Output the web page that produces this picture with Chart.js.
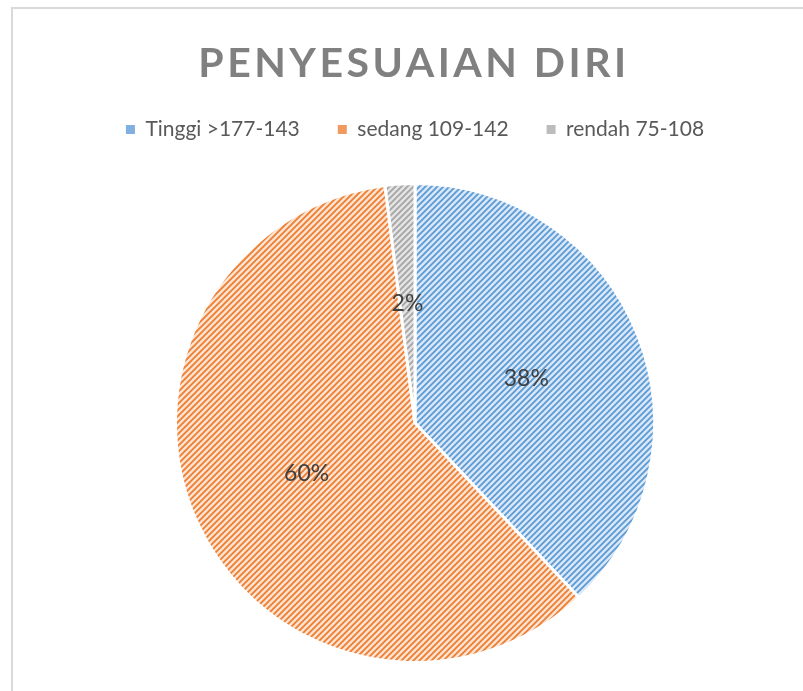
<!DOCTYPE html>
<html>
<head>
<meta charset="utf-8">
<script src="https://cdn.jsdelivr.net/npm/chart.js@4/dist/chart.umd.min.js"></script>
<style>
  html, body { margin: 0; padding: 0; background: #fff; }
  #wrap { position: relative; width: 803px; height: 691px; }
  #frame { position: absolute; left: 11px; top: 7px; right: 0; bottom: 0;
           border-left: 2px solid #d9d9d9; border-top: 2px solid #d9d9d9; }
  canvas { position: absolute; left: 0; top: 0; }
</style>
</head>
<body>
<div id="wrap">
  <div id="frame"></div>
  <canvas id="pieChart" width="803" height="691"></canvas>
</div>
<script>
const titleText = "PENYESUAIAN DIRI";
const categories = ["Tinggi >177-143", "sedang 109-142", "rendah 75-108"];
const percentages = [38, 60, 2];
const stripeColors = ["#5b9bd5", "#ed7d31", "#a5a5a5"];
const baseColors = ["#d9e7f7", "#fde3d1", "#e4e4e4"];
const legendColors = ["#7fb0e0", "#f09a60", "#bcbcbc"];

// diagonal hatch like Excel's "wide upward diagonal"
function hatch(bg, fg) {
  const c = document.createElement("canvas");
  c.width = 6; c.height = 6;
  const g = c.getContext("2d");
  g.fillStyle = bg;
  g.fillRect(0, 0, 6, 6);
  g.strokeStyle = fg;
  g.lineWidth = 1.8;
  g.beginPath();
  g.moveTo(-1, 7); g.lineTo(7, -1);
  g.moveTo(-1, 1); g.lineTo(1, -1);
  g.moveTo(5, 7); g.lineTo(7, 5);
  g.stroke();
  return g.createPattern(c, "repeat");
}

const fills = baseColors.map((b, i) => hatch(b, stripeColors[i]));

const titlePlugin = {
  id: "spacedTitle",
  afterDraw(chart) {
    const ctx = chart.ctx;
    ctx.save();
    ctx.font = "bold 41px Lato";
    ctx.fillStyle = "#808080";
    ctx.letterSpacing = "3.5px";
    ctx.textAlign = "center";
    ctx.textBaseline = "alphabetic";
    ctx.fillText(titleText, 414, 77);
    ctx.restore();
  }
};

// extra gap between legend and pie
const legendGap = {
  id: "legendGap",
  beforeInit(chart) {
    const fit = chart.legend.fit;
    chart.legend.fit = function () {
      fit.call(this);
      this.height += 32;
    };
  }
};

const labelPlugin = {
  id: "sliceLabels",
  afterDatasetsDraw(chart) {
    const ctx = chart.ctx;
    const meta = chart.getDatasetMeta(0);
    ctx.save();
    ctx.font = "23px Lato";
    ctx.fillStyle = "#404040";
    ctx.textAlign = "center";
    ctx.textBaseline = "middle";
    meta.data.forEach((arc, i) => {
      const p = arc.getCenterPoint();
      ctx.fillText(percentages[i] + "%", p.x, p.y);
    });
    ctx.restore();
  }
};

new Chart(document.getElementById("pieChart"), {
  type: "pie",
  data: {
    labels: categories,
    datasets: [{
      data: percentages,
      backgroundColor: fills,
      borderColor: "#ffffff",
      borderWidth: 3
    }]
  },
  options: {
    responsive: false,
    animation: false,
    layout: { padding: { top: 81, bottom: 27, left: 27, right: 0 } },
    plugins: {
      legend: {
        position: "top",
        labels: {
          boxWidth: 9,
          boxHeight: 9,
          padding: 38,
          color: "#595959",
          font: { family: "Lato", size: 21 },
          generateLabels(chart) {
            return categories.map((c, i) => ({
              text: c,
              fillStyle: legendColors[i],
              strokeStyle: legendColors[i],
              lineWidth: 0,
              fontColor: "#595959",
              index: i,
              hidden: false
            }));
          }
        }
      },
      tooltip: { enabled: false }
    }
  },
  plugins: [legendGap, titlePlugin, labelPlugin]
});
</script>
</body>
</html>
